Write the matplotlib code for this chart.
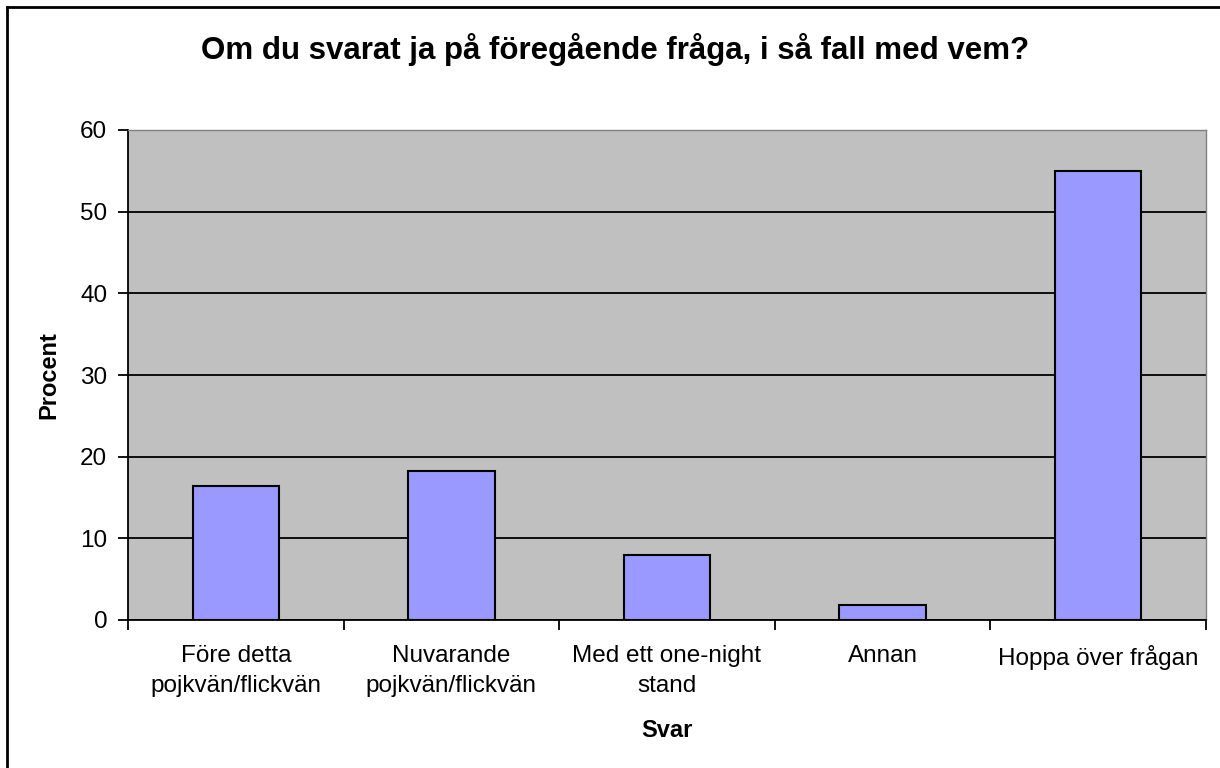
import matplotlib.pyplot as plt
from matplotlib.lines import Line2D

categories = ["Före detta\npojkvän/flickvän", "Nuvarande\npojkvän/flickvän",
              "Med ett one-night\nstand", "Annan", "Hoppa över frågan"]
values = [16.4, 18.2, 7.9, 1.8, 55.0]
yticks = [0, 10, 20, 30, 40, 50, 60]

plt.rcParams['font.family'] = ['Liberation Sans', 'DejaVu Sans']

fig = plt.figure(figsize=(12.2, 7.68), dpi=100)
ax = fig.add_axes([128/1220, 148/768, 1078/1220, 490/768])
ax.set_facecolor('#c0c0c0')

x = list(range(len(categories)))
ax.bar(x, values, width=0.4, color='#9999ff', edgecolor='black', linewidth=1.5, zorder=3)

ax.set_xlim(-0.5, len(categories) - 0.5)
ax.set_ylim(0, 60)
ax.set_yticks(yticks)
ax.yaxis.grid(True, color='black', linewidth=1.3, zorder=1)
ax.set_axisbelow(True)

ax.set_xticks([i - 0.5 for i in range(len(categories) + 1)])
ax.set_xticklabels([])
ax.set_xticks(x, minor=True)
ax.set_xticklabels(categories, minor=True, fontsize=17.5, linespacing=1.45)
ax.tick_params(axis='x', which='minor', length=0, pad=18)
ax.tick_params(axis='x', which='major', length=7, width=1.3, direction='out')
ax.tick_params(axis='y', length=7, width=1.3, direction='out', labelsize=17.5, pad=8)

for s in ['left', 'bottom']:
    ax.spines[s].set_linewidth(1.3)
    ax.spines[s].set_color('black')
for s in ['top', 'right']:
    ax.spines[s].set_color('#808080')
    ax.spines[s].set_linewidth(1.0)

ax.set_xlabel('Svar', fontsize=17, fontweight='bold')
ax.xaxis.set_label_coords(0.5, -(719 - 620)/490)
ax.set_ylabel('Procent', fontsize=17, fontweight='bold')
ax.yaxis.set_label_coords(-(128 - 60)/1078, 0.5)
fig.suptitle('Om du svarat ja på föregående fråga, i så fall med vem?',
             x=615/1220, y=1 - 50/768, va='center', fontsize=22.5, fontweight='bold')

fig.add_artist(Line2D([7/1220, 7/1220], [0, 1 - 7/768], color='black', linewidth=2, transform=fig.transFigure))
fig.add_artist(Line2D([7/1220, 1], [1 - 7/768, 1 - 7/768], color='black', linewidth=2, transform=fig.transFigure))

fig.savefig('out.png', dpi=100)
